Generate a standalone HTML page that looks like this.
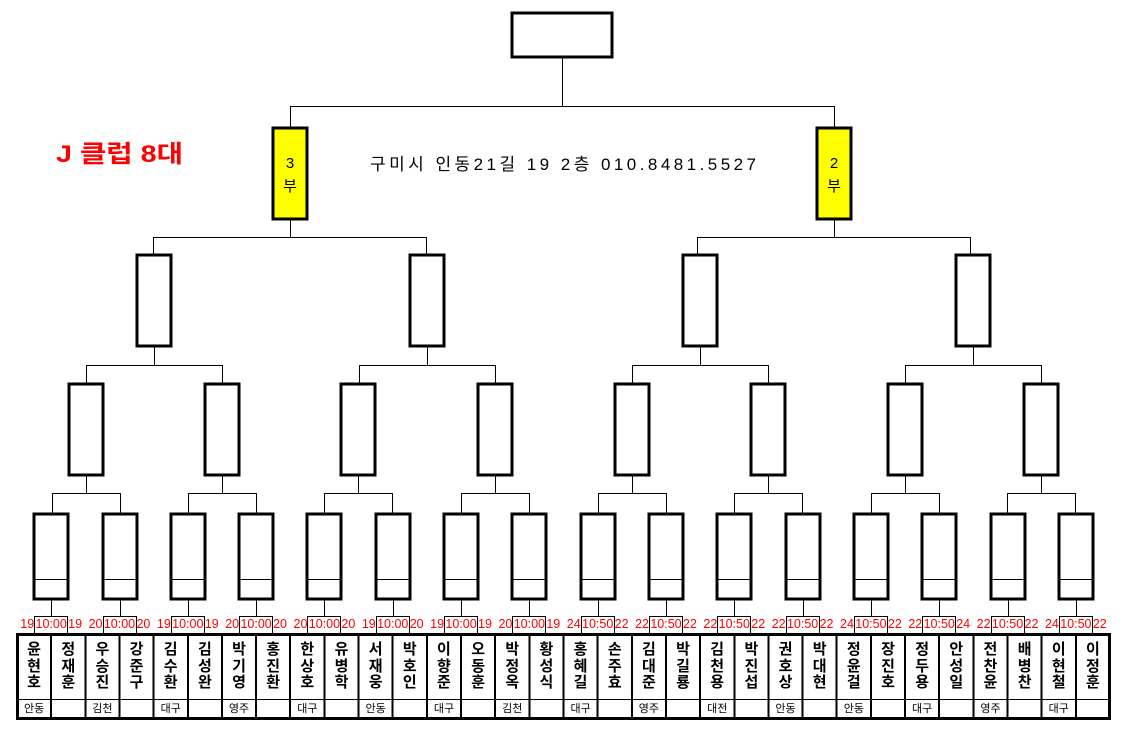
<!DOCTYPE html>
<html><head><meta charset="utf-8"><style>
body{margin:0;width:1129px;height:731px;background:#fff;position:relative;overflow:hidden;font-family:"Liberation Sans","Noto Sans CJK KR","NanumGothic",sans-serif}
svg{position:absolute;left:0;top:0}
.grid{position:absolute;left:17px;width:1093px;display:grid;grid-template-columns:repeat(32,1fr)}
.names{top:636px;height:63px}
.names div{text-align:center;font-size:15px;font-weight:bold;line-height:16.5px;padding-top:6px;overflow:hidden}
.reg{top:700px;height:18px}
.reg div{text-align:center;font-size:11px;line-height:18px;overflow:hidden}
.sc{position:absolute;top:616px;left:17px;width:1093px;height:17px;display:grid;grid-template-columns:repeat(16,1fr)}
.sc div{display:flex;justify-content:center;align-items:center;color:#f00;font-size:12.5px;line-height:17px;overflow:visible}
.sc span{display:block;flex:none;white-space:nowrap}
.sc .t{width:34px;text-align:center}
.sc .l{width:17px;text-align:right}
.sc .r{width:17px;text-align:left}
</style></head><body>
<svg width="1129" height="731" shape-rendering="crispEdges">
<defs>
<g id="r1" fill="none" stroke="#000">
<rect x="-17" y="514" width="34" height="85" stroke-width="3"/>
<line x1="-17" y1="579.5" x2="17" y2="579.5"/>
<line x1="0.5" y1="600" x2="0.5" y2="616"/>
<rect x="-16.5" y="616.5" width="33" height="17"/>
</g>
<g id="r2" fill="none" stroke="#000">
<rect x="-17" y="384" width="34" height="91" stroke-width="3"/>
<line x1="0.5" y1="476" x2="0.5" y2="493"/>
<line x1="-34" y1="493.5" x2="35" y2="493.5"/>
<line x1="-33.5" y1="493" x2="-33.5" y2="513"/>
<line x1="34.5" y1="493" x2="34.5" y2="513"/>
</g>
<g id="r3" fill="none" stroke="#000">
<rect x="-17" y="255" width="34" height="91" stroke-width="3"/>
<line x1="0.5" y1="347" x2="0.5" y2="365"/>
<line x1="-68" y1="365.5" x2="69" y2="365.5"/>
<line x1="-67.5" y1="365" x2="-67.5" y2="383"/>
<line x1="68.5" y1="365" x2="68.5" y2="383"/>
</g>
<g id="r4" stroke="#000">
<rect x="-17" y="128" width="34" height="91" stroke-width="3" fill="#ffff00"/>
<line x1="0.5" y1="220" x2="0.5" y2="237"/>
<line x1="-136" y1="237.5" x2="137" y2="237.5"/>
<line x1="-136.5" y1="237" x2="-136.5" y2="254"/>
<line x1="136.5" y1="237" x2="136.5" y2="254"/>
</g>
</defs>
<use href="#r1" x="51"/><use href="#r1" x="120"/><use href="#r1" x="188"/><use href="#r1" x="256"/>
<use href="#r1" x="324"/><use href="#r1" x="393"/><use href="#r1" x="461"/><use href="#r1" x="529"/>
<use href="#r1" x="598"/><use href="#r1" x="666"/><use href="#r1" x="734"/><use href="#r1" x="803"/>
<use href="#r1" x="871"/><use href="#r1" x="939"/><use href="#r1" x="1008"/><use href="#r1" x="1076"/>
<use href="#r2" x="86"/><use href="#r2" x="222"/><use href="#r2" x="358"/><use href="#r2" x="495"/>
<use href="#r2" x="632"/><use href="#r2" x="768"/><use href="#r2" x="905"/><use href="#r2" x="1041"/>
<use href="#r3" x="154"/><use href="#r3" x="427"/><use href="#r3" x="700"/><use href="#r3" x="973"/>
<use href="#r4" x="290"/><use href="#r4" x="834"/>
<g fill="none" stroke="#000">
<rect x="512" y="13" width="100" height="44" stroke-width="3"/>
<line x1="562.5" y1="58" x2="562.5" y2="106"/>
<line x1="290" y1="106.5" x2="835" y2="106.5"/>
<line x1="290.5" y1="106" x2="290.5" y2="127"/>
<line x1="834.5" y1="106" x2="834.5" y2="127"/>
<rect x="17.5" y="634.5" width="1092" height="84" stroke-width="3"/>
<line x1="17" y1="699.5" x2="1110" y2="699.5"/>
<g stroke-width="2">
<line x1="51.2" y1="634" x2="51.2" y2="718"/><line x1="85.3" y1="634" x2="85.3" y2="718"/><line x1="119.5" y1="634" x2="119.5" y2="718"/><line x1="153.6" y1="634" x2="153.6" y2="718"/>
<line x1="187.8" y1="634" x2="187.8" y2="718"/><line x1="221.9" y1="634" x2="221.9" y2="718"/><line x1="256.1" y1="634" x2="256.1" y2="718"/><line x1="290.2" y1="634" x2="290.2" y2="718"/>
<line x1="324.4" y1="634" x2="324.4" y2="718"/><line x1="358.6" y1="634" x2="358.6" y2="718"/><line x1="392.7" y1="634" x2="392.7" y2="718"/><line x1="426.9" y1="634" x2="426.9" y2="718"/>
<line x1="461" y1="634" x2="461" y2="718"/><line x1="495.2" y1="634" x2="495.2" y2="718"/><line x1="529.3" y1="634" x2="529.3" y2="718"/><line x1="563.5" y1="634" x2="563.5" y2="718"/>
<line x1="597.7" y1="634" x2="597.7" y2="718"/><line x1="631.8" y1="634" x2="631.8" y2="718"/><line x1="666" y1="634" x2="666" y2="718"/><line x1="700.1" y1="634" x2="700.1" y2="718"/>
<line x1="734.3" y1="634" x2="734.3" y2="718"/><line x1="768.4" y1="634" x2="768.4" y2="718"/><line x1="802.6" y1="634" x2="802.6" y2="718"/><line x1="836.7" y1="634" x2="836.7" y2="718"/>
<line x1="870.9" y1="634" x2="870.9" y2="718"/><line x1="905.1" y1="634" x2="905.1" y2="718"/><line x1="939.2" y1="634" x2="939.2" y2="718"/><line x1="973.4" y1="634" x2="973.4" y2="718"/>
<line x1="1007.5" y1="634" x2="1007.5" y2="718"/><line x1="1041.7" y1="634" x2="1041.7" y2="718"/><line x1="1075.8" y1="634" x2="1075.8" y2="718"/>
</g>
</g>
<text x="56" y="162" font-size="24" font-weight="bold" fill="#f00" textLength="127" lengthAdjust="spacingAndGlyphs" font-family="Liberation Sans, Noto Sans CJK KR, sans-serif">J 클럽 8대</text>
<text x="370" y="170" font-size="17" textLength="386" font-family="Liberation Sans, Noto Sans CJK KR, sans-serif">구미시 인동21길 19 2층 010.8481.5527</text>
<g font-size="15" text-anchor="middle" font-family="Liberation Sans, Noto Sans CJK KR, sans-serif">
<text x="290" y="168">3</text><text x="290" y="191">부</text>
<text x="834" y="168">2</text><text x="834" y="191">부</text>
</g>
</svg>
<div class="sc">
<div><span class="l">19</span><span class="t">10:00</span><span class="r">19</span></div>
<div><span class="l">20</span><span class="t">10:00</span><span class="r">20</span></div>
<div><span class="l">19</span><span class="t">10:00</span><span class="r">19</span></div>
<div><span class="l">20</span><span class="t">10:00</span><span class="r">20</span></div>
<div><span class="l">20</span><span class="t">10:00</span><span class="r">20</span></div>
<div><span class="l">19</span><span class="t">10:00</span><span class="r">20</span></div>
<div><span class="l">19</span><span class="t">10:00</span><span class="r">19</span></div>
<div><span class="l">20</span><span class="t">10:00</span><span class="r">19</span></div>
<div><span class="l">24</span><span class="t">10:50</span><span class="r">22</span></div>
<div><span class="l">22</span><span class="t">10:50</span><span class="r">22</span></div>
<div><span class="l">22</span><span class="t">10:50</span><span class="r">22</span></div>
<div><span class="l">22</span><span class="t">10:50</span><span class="r">22</span></div>
<div><span class="l">24</span><span class="t">10:50</span><span class="r">22</span></div>
<div><span class="l">22</span><span class="t">10:50</span><span class="r">24</span></div>
<div><span class="l">22</span><span class="t">10:50</span><span class="r">22</span></div>
<div><span class="l">24</span><span class="t">10:50</span><span class="r">22</span></div>
</div>
<div class="grid names">
<div>윤<br>현<br>호</div><div>정<br>재<br>훈</div><div>우<br>승<br>진</div><div>강<br>준<br>구</div>
<div>김<br>수<br>환</div><div>김<br>성<br>완</div><div>박<br>기<br>영</div><div>홍<br>진<br>환</div>
<div>한<br>상<br>호</div><div>유<br>병<br>학</div><div>서<br>재<br>웅</div><div>박<br>호<br>인</div>
<div>이<br>향<br>준</div><div>오<br>동<br>훈</div><div>박<br>정<br>옥</div><div>황<br>성<br>식</div>
<div>홍<br>혜<br>길</div><div>손<br>주<br>효</div><div>김<br>대<br>준</div><div>박<br>길<br>룡</div>
<div>김<br>천<br>용</div><div>박<br>진<br>섭</div><div>권<br>호<br>상</div><div>박<br>대<br>현</div>
<div>정<br>윤<br>걸</div><div>장<br>진<br>호</div><div>정<br>두<br>용</div><div>안<br>성<br>일</div>
<div>전<br>찬<br>윤</div><div>배<br>병<br>찬</div><div>이<br>현<br>철</div><div>이<br>정<br>훈</div>
</div>
<div class="grid reg">
<div>안동</div><div></div><div>김천</div><div></div><div>대구</div><div></div><div>영주</div><div></div>
<div>대구</div><div></div><div>안동</div><div></div><div>대구</div><div></div><div>김천</div><div></div>
<div>대구</div><div></div><div>영주</div><div></div><div>대전</div><div></div><div>안동</div><div></div>
<div>안동</div><div></div><div>대구</div><div></div><div>영주</div><div></div><div>대구</div><div></div>
</div>
</body></html>
